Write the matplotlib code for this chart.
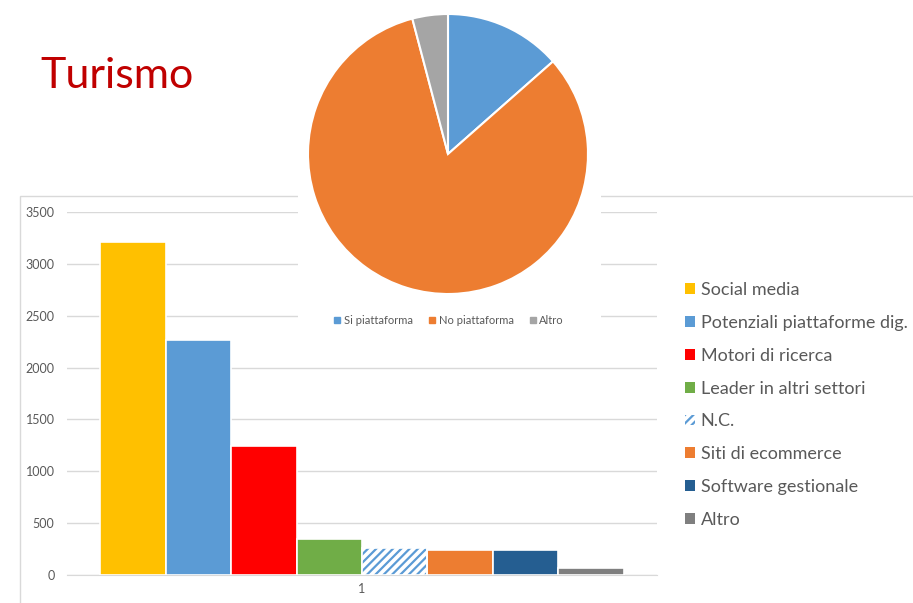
import matplotlib
matplotlib.use("Agg")
import matplotlib.pyplot as plt
from matplotlib.patches import Patch, Rectangle

plt.rcParams['font.family'] = ['Lato', 'DejaVu Sans']
plt.rcParams['hatch.linewidth'] = 1.6

# bar chart data
bar_labels = ['Social media', 'Potenziali piattaforme dig.', 'Motori di ricerca',
              'Leader in altri settori', 'N.C.', 'Siti di ecommerce',
              'Software gestionale', 'Altro']
bar_values = [3210, 2270, 1245, 345, 258, 245, 242, 65]
bar_colors = ['#FFC000', '#5B9BD5', '#FF0000', '#70AD47', 'white',
              '#ED7D31', '#255E91', '#7F7F7F']
y_ticks = [0, 500, 1000, 1500, 2000, 2500, 3000, 3500]
x_tick_label = '1'

# pie data (percent)
pie_labels = ['Si piattaforma', 'No piattaforma', 'Altro']
pie_values = [13.5, 82.4, 4.1]
pie_colors = ['#5B9BD5', '#ED7D31', '#A5A5A5']

W, H = 913, 603
fig = plt.figure(figsize=(W / 100, H / 100), dpi=100)
grey_txt = '#595959'


def box(x0, y0, x1, y1):
    # pixel box (top-left origin) -> figure fraction rect
    return [x0 / W, 1 - y1 / H, (x1 - x0) / W, (y1 - y0) / H]


# outer frame of the bar chart
fig.patches.append(Rectangle((20 / W, -0.1), 1.2, 1 - 196 / H + 0.1,
                             transform=fig.transFigure, fill=False,
                             edgecolor='#D9D9D9', linewidth=1, zorder=-5))

# ---- bar chart
ax = fig.add_axes(box(67, 212, 657, 575))
n = len(bar_values)
for i in range(n):
    if bar_labels[i] == 'N.C.':
        ax.bar(i, bar_values[i], width=1, color='white', edgecolor='#5B9BD5',
               hatch='////', linewidth=0, zorder=3)
        ax.bar(i, bar_values[i], width=1, fill=False, edgecolor='white',
               linewidth=1.2, zorder=4)
    else:
        ax.bar(i, bar_values[i], width=1, color=bar_colors[i],
               edgecolor='white', linewidth=1.2, zorder=3)
ax.set_xlim(-1.004, n - 1 + 1.004)
ax.set_ylim(0, 3500)
ax.set_yticks(y_ticks)
ax.set_xticks([(n - 1) / 2])
ax.set_xticklabels([x_tick_label])
ax.tick_params(length=0, labelsize=9, labelcolor=grey_txt, pad=6)
ax.tick_params(axis='y', pad=9)
ax.grid(axis='y', color='#D9D9D9', linewidth=1, zorder=0)
for s in ['top', 'right', 'left']:
    ax.spines[s].set_visible(False)
ax.spines['bottom'].set_color('#D9D9D9')

handles = []
for i in range(n):
    if bar_labels[i] == 'N.C.':
        handles.append(Patch(facecolor='white', edgecolor='#5B9BD5',
                             hatch='////', linewidth=0))
    else:
        handles.append(Patch(facecolor=bar_colors[i], edgecolor='none'))
fig.legend(handles, bar_labels, loc='upper left',
           bbox_to_anchor=(669 / W, 1 - 266 / H), frameon=False,
           fontsize=13, labelcolor=grey_txt, handlelength=0.55,
           handleheight=0.55, handletextpad=0.3, labelspacing=0.93)

# ---- pie chart (white panel over the bar chart)
px0, py0, px1, py1 = 298, 0, 601, 335
cx, cy, r = 448, 154, 140
pax = fig.add_axes(box(px0, py0, px1, py1))
pax.pie(pie_values, colors=pie_colors, startangle=90, counterclock=False,
        wedgeprops=dict(edgecolor='white', linewidth=1.5))
pax.set_xlim((px0 - cx) / r, (px1 - cx) / r)
pax.set_ylim((cy - py1) / r, (cy - py0) / r)
pax.set_aspect('auto')
pax.axis('off')
pax.add_patch(Rectangle((0, 0), 1, 1, transform=pax.transAxes,
                        facecolor='white', edgecolor='none', zorder=-1))
pie_handles = [plt.Line2D([], [], marker='s', linestyle='none', color=c,
                          markersize=4) for c in pie_colors]
pax.legend(pie_handles, pie_labels, loc='center', ncol=3,
           bbox_to_anchor=(449 / W, 1 - 320 / H),
           bbox_transform=fig.transFigure, frameon=False, fontsize=8,
           labelcolor=grey_txt, handlelength=0.6, handletextpad=0.3,
           columnspacing=1.4)

# title
fig.text(40 / W, 1 - 88 / H, 'Turismo', color='#C00000', fontsize=31,
         va='baseline', ha='left')

fig.savefig('out.png', dpi=100)
